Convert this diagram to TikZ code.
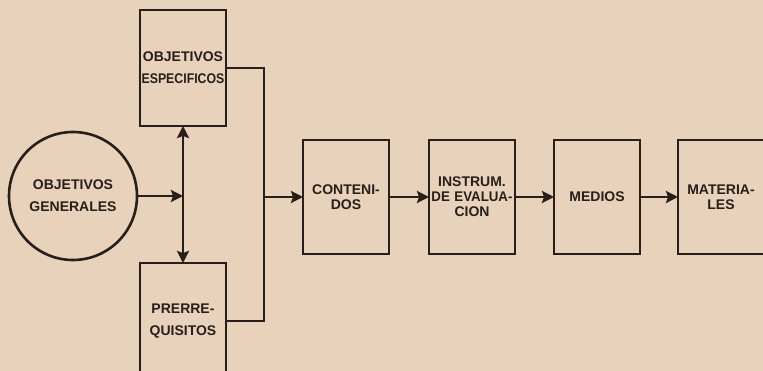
\documentclass[tikz,border=0pt]{standalone}
\usepackage{fontspec}
\setmainfont{Liberation Sans}
\usepackage{tikz}
\usetikzlibrary{arrows.meta, positioning, calc}
\definecolor{paper}{RGB}{232,210,188}
\definecolor{ink}{RGB}{40,30,26}
\tikzstyle{link} = [ink, line width=2.6pt, -{Stealth[length=12pt, width=12pt, inset=2pt]}]

\begin{document}
\begin{tikzpicture}[x=1pt, y=-1pt,
      box/.style={rectangle, draw=ink, line width=2.6pt, outer sep=0pt, minimum width=86pt, text width=86pt, minimum height=114pt, inner sep=0pt, align=center, text=ink, font=\fontsize{14}{15}\selectfont\bfseries},
      tallbox/.style={box, minimum height=116pt, font=\fontsize{14}{22}\selectfont\bfseries},
      goal/.style={circle, draw=ink, line width=2.6pt, outer sep=0pt, minimum size=128pt, inner sep=0pt, align=center, text=ink, font=\fontsize{14}{22}\selectfont\bfseries},
      bus/.style={ink, line width=2.6pt},
    ]

    % Paper
    \fill[paper] (0,0) rectangle (763,371);
    \useasboundingbox (0,0) rectangle (763,371);

    % Nodes
    \node[goal] (gen) at (73,196) {OBJETIVOS\\GENERALES};
    \node[tallbox] (espec) at (183,68) {OBJETIVOS\\\scalebox{0.88}[1]{ESPECIFICOS}};
    \node[tallbox] (prer) at (183,321) {PRERRE-\\QUISITOS};
    \node[box] (cont) at (346,197) {CONTENI-\\DOS};
    \node[box, right=40pt of cont] (instr) {INSTRUM.\\\scalebox{0.95}[1]{DE EVALUA-}\\CION};
    \node[box, right=39pt of instr] (med) {MEDIOS};
    \node[box, right=38pt of med] (mat) {MATERIA-\\LES};
    \coordinate (join) at (264,197);

    % Edges
    \draw[link] (gen.east) -- (gen.east -| espec.south);
    \draw[link, {Stealth[length=12pt, width=12pt, inset=2pt]}-{Stealth[length=12pt, width=12pt, inset=2pt]}] (espec.south) -- (prer.north);
    \draw[bus] (espec.east) -| (join) |- (prer.east);
    \draw[link] (join) -- (cont);
    \draw[link] (cont) -- (instr);
    \draw[link] (instr) -- (med);
    \draw[link] (med) -- (mat);

  \end{tikzpicture}
\end{document}
